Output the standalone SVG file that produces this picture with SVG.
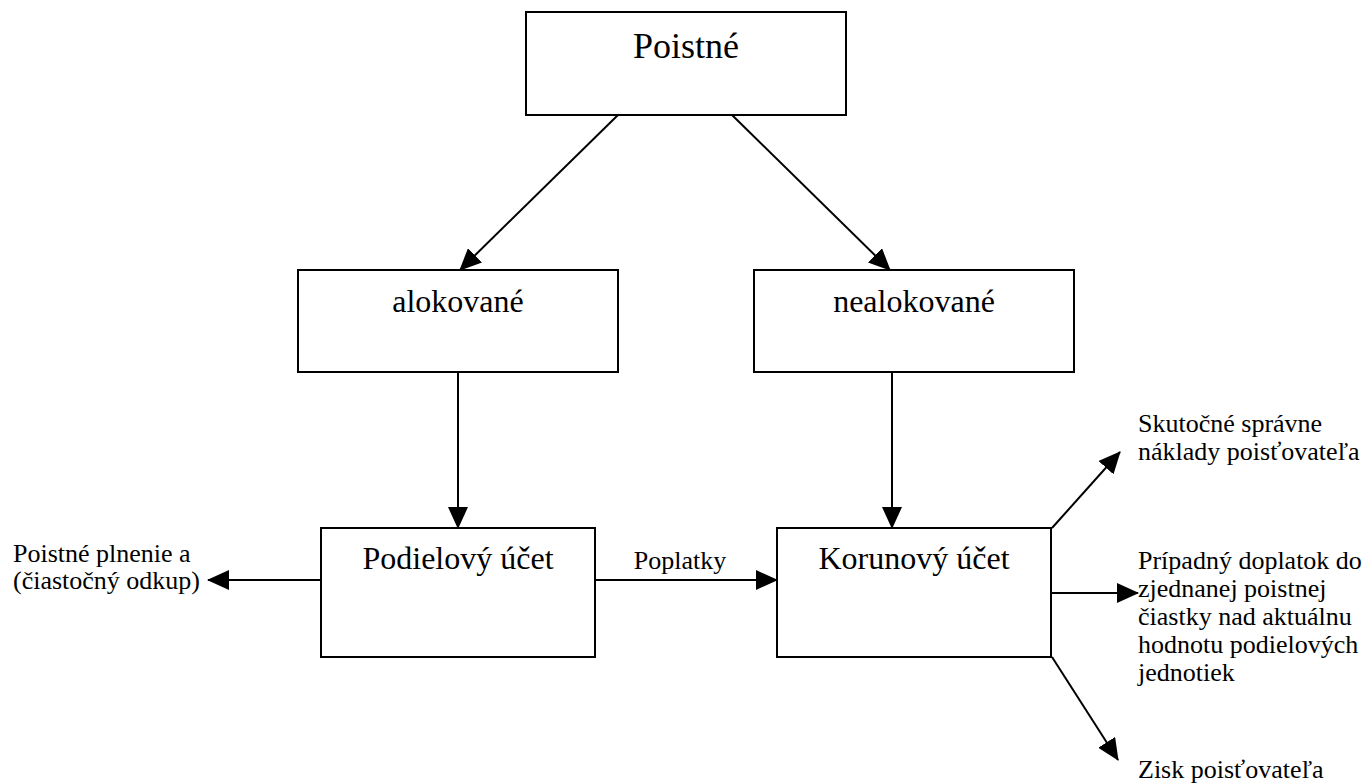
<svg xmlns="http://www.w3.org/2000/svg" width="1372" height="783" viewBox="0 0 1372 783">
<style>
.box{fill:#fff;stroke:#000;stroke-width:2}
.t{font-family:"Liberation Serif","Times New Roman",serif;fill:#000}
.big{font-size:32px;text-anchor:middle}
.sm{font-size:26px}
.c{stroke:#000;stroke-width:2;fill:none;marker-end:url(#ah)}
</style>
<defs>
<marker id="ah" markerUnits="userSpaceOnUse" markerWidth="22" markerHeight="20" viewBox="0 0 22 20" refX="21" refY="10" orient="auto">
<path d="M0,0 L22,10 L0,20 z" fill="#000"/>
</marker>
</defs>
<rect width="1372" height="783" fill="#fff"/>
<g id="connectors">
<line class="c" x1="618" y1="115" x2="460" y2="270"/>
<line class="c" x1="732" y1="115" x2="890" y2="270"/>
<line class="c" x1="458" y1="372" x2="458" y2="528"/>
<line class="c" x1="892" y1="372" x2="892" y2="528"/>
<line class="c" x1="595" y1="580" x2="777" y2="580"/>
<line class="c" x1="321" y1="580" x2="208" y2="580"/>
<line class="c" x1="1052" y1="528" x2="1120" y2="452"/>
<line class="c" x1="1048" y1="593" x2="1138" y2="593"/>
<line class="c" x1="1052" y1="657" x2="1118" y2="760"/>
<text class="t sm" x="680" y="569" text-anchor="middle">Poplatky</text>
</g>
<g id="poistne">
<rect class="box" x="526" y="12" width="320" height="103"/>
<text class="t big" x="686" y="58" style="font-size:36px">Poistné</text>
</g>
<g id="alokovane">
<rect class="box" x="298" y="270" width="320" height="102"/>
<text class="t big" x="458" y="312">alokované</text>
</g>
<g id="nealokovane">
<rect class="box" x="754" y="270" width="320" height="102"/>
<text class="t big" x="914" y="312">nealokované</text>
</g>
<g id="podielovy">
<rect class="box" x="321" y="528" width="274" height="129"/>
<text class="t big" x="458" y="569">Podielový účet</text>
</g>
<g id="korunovy">
<rect class="box" x="777" y="528" width="274" height="129"/>
<text class="t big" x="914" y="569">Korunový účet</text>
</g>
<g id="plnenie">
<text class="t sm" x="13" y="562">Poistné plnenie a</text>
<text class="t sm" x="13" y="589">(čiastočný odkup)</text>
</g>
<g id="naklady">
<text class="t sm" x="1138" y="432">Skutočné správne</text>
<text class="t sm" x="1138" y="460">náklady poisťovateľa</text>
</g>
<g id="doplatok">
<text class="t sm" x="1138" y="569">Prípadný doplatok do</text>
<text class="t sm" x="1138" y="597">zjednanej poistnej</text>
<text class="t sm" x="1138" y="625">čiastky nad aktuálnu</text>
<text class="t sm" x="1138" y="653">hodnotu podielových</text>
<text class="t sm" x="1138" y="681">jednotiek</text>
</g>
<g id="zisk">
<text class="t sm" x="1138" y="778">Zisk poisťovateľa</text>
</g>
</svg>
